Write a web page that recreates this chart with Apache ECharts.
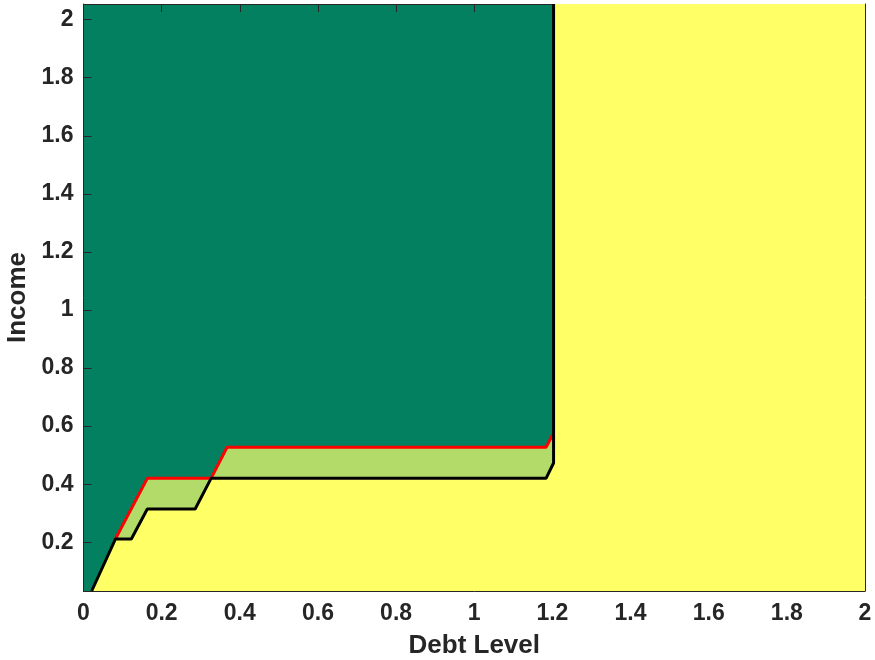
<!DOCTYPE html>
<html>
<head>
<meta charset="utf-8">
<title>Debt Level vs Income</title>
<script src="https://cdn.jsdelivr.net/npm/echarts@6/dist/echarts.min.js"></script>
<style>
  html, body { margin: 0; padding: 0; background: #fff; }
  #chart { width: 875px; height: 660px; }
</style>
</head>
<body>
<div id="chart"></div>
<script>
// boundary of the lower (yellow) region, black line
const blackLine = [
  [0.021, 0.032], [0.0816, 0.211], [0.1224, 0.211], [0.1633, 0.3145],
  [0.2857, 0.3145], [0.3265, 0.42], [1.1837, 0.42], [1.203, 0.473], [1.203, 2.054]
];
// upper boundary of the light green band, red line
const redLine = [
  [0.0816, 0.211], [0.1633, 0.42], [0.3265, 0.42], [0.3673, 0.527],
  [1.1837, 0.527], [1.203, 0.576]
];
// yellow fill continues to the right of the vertical black line
const yellowTop = blackLine.concat([[2, 2.054]]);

const xTicks = [0, 0.2, 0.4, 0.6, 0.8, 1, 1.2, 1.4, 1.6, 1.8, 2];
const yTicks = [0.2, 0.4, 0.6, 0.8, 1, 1.2, 1.4, 1.6, 1.8, 2];
const yMin = 0.032;
const yMax = 2.054;

const axisColor = '#262626';
const fontFamily = 'Liberation Sans, Arial, sans-serif';
const fmt = v => String(+(+v).toFixed(1));

const chart = echarts.init(document.getElementById('chart'));

const option = {
  animation: false,
  grid: {
    left: 83.5, right: 10, top: 4, bottom: 69,
    containLabel: false, outerBoundsMode: 'none',
    show: true, backgroundColor: '#03805F', borderWidth: 0
  },
  xAxis: [
    {
      type: 'value', min: 0, max: 2, interval: 0.2, position: 'bottom',
      name: 'Debt Level', nameLocation: 'middle', nameGap: 42,
      nameTextStyle: { fontSize: 26, fontWeight: 'bold', color: axisColor, fontFamily },
      axisLine: { lineStyle: { color: axisColor, width: 1 } },
      axisTick: { inside: true, length: 8, lineStyle: { color: axisColor }, customValues: xTicks },
      axisLabel: { fontSize: 23, fontWeight: 'bold', color: axisColor, fontFamily, margin: 11, formatter: fmt, customValues: xTicks },
      splitLine: { show: false }
    },
    {
      type: 'value', min: 0, max: 2, interval: 0.2, position: 'top',
      axisLine: { onZero: false, lineStyle: { color: axisColor, width: 1 } },
      axisTick: { inside: true, length: 8, lineStyle: { color: axisColor }, customValues: xTicks },
      axisLabel: { show: false },
      splitLine: { show: false }
    }
  ],
  yAxis: [
    {
      type: 'value', min: yMin, max: yMax, position: 'left',
      name: 'Income', nameLocation: 'middle', nameGap: 49, nameRotate: 90,
      nameTextStyle: { fontSize: 26, fontWeight: 'bold', color: axisColor, fontFamily },
      axisLine: { show: true, onZero: false, lineStyle: { color: axisColor, width: 1 } },
      axisTick: { show: true, inside: true, length: 8, lineStyle: { color: axisColor }, customValues: yTicks },
      axisLabel: { fontSize: 23, fontWeight: 'bold', color: axisColor, fontFamily, margin: 10, formatter: fmt, customValues: yTicks },
      splitLine: { show: false }
    },
    {
      type: 'value', min: yMin, max: yMax, position: 'right',
      axisLine: { show: true, onZero: false, lineStyle: { color: axisColor, width: 1 } },
      axisTick: { show: true, inside: true, length: 8, lineStyle: { color: axisColor }, customValues: yTicks },
      axisLabel: { show: false },
      splitLine: { show: false }
    }
  ],
  series: [
    {
      name: 'band', type: 'line', data: redLine, symbol: 'none', z: 1,
      lineStyle: { width: 0 },
      areaStyle: { color: '#B3DB6A', opacity: 1, origin: 'start' }
    },
    {
      name: 'lower', type: 'line', data: yellowTop, symbol: 'none', z: 2,
      lineStyle: { width: 0 },
      areaStyle: { color: '#FFFF66', opacity: 1, origin: 'start' }
    },
    {
      name: 'red', type: 'line', data: redLine, symbol: 'none', z: 3,
      lineStyle: { color: '#FF0000', width: 3 }
    },
    {
      name: 'black', type: 'line', data: blackLine, symbol: 'none', z: 4,
      lineStyle: { color: '#000000', width: 3 }
    }
  ]
};

chart.setOption(option);
</script>
</body>
</html>
